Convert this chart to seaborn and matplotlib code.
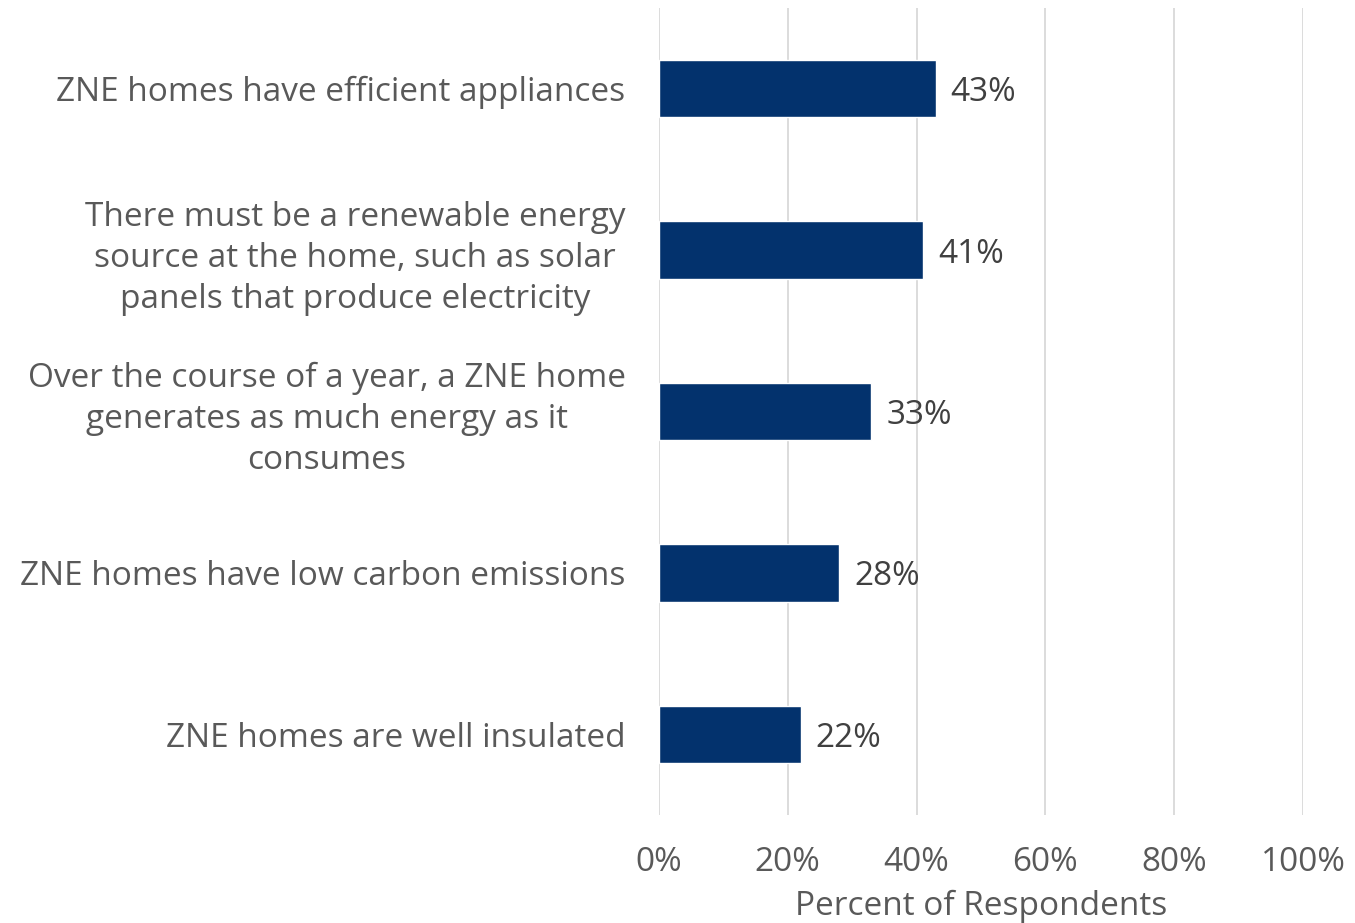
import matplotlib
matplotlib.use("Agg")
import matplotlib.pyplot as plt
import seaborn as sns
import pandas as pd
from matplotlib.ticker import FuncFormatter

categories = [
    "ZNE homes have efficient appliances",
    "There must be a renewable energy\nsource at the home, such as solar\npanels that produce electricity",
    "Over the course of a year, a ZNE home\ngenerates as much energy as it\nconsumes",
    "ZNE homes have low carbon emissions",
    "ZNE homes are well insulated",
]
percent = [43, 41, 33, 28, 22]
x_ticks = [0, 20, 40, 60, 80, 100]

df = pd.DataFrame({"statement": categories, "percent": percent})

sns.set_theme(style="white")
plt.rcParams["font.family"] = ["Open Sans", "DejaVu Sans"]

FS = 24
GREY = "#595959"

fig = plt.figure(figsize=(13.55, 9.23), dpi=100)
ax = fig.add_axes([0.4863, 0.117, 0.4753, 0.8743])

sns.barplot(data=df, x="percent", y="statement", color="#03326D",
            width=0.355, saturation=1, ax=ax, zorder=3)

ax.set_xlim(0, 100)
ax.set_ylim(4.5, -0.5)
ax.set_xticks(x_ticks)
ax.xaxis.set_major_formatter(FuncFormatter(lambda v, _: f"{v:.0f}%"))
ax.grid(axis="x", color="#D9D9D9", linewidth=1.3, zorder=0)
ax.grid(axis="y", visible=False)
for s in ax.spines.values():
    s.set_visible(False)

ax.tick_params(axis="x", length=0, pad=22, labelsize=FS, labelcolor=GREY)
ax.tick_params(axis="y", length=0, pad=24, labelsize=FS, labelcolor=GREY)
for lbl in ax.get_yticklabels():
    lbl.set_multialignment("center")
    lbl.set_linespacing(1.32)

ax.set_xlabel("Percent of Respondents", fontsize=FS, color=GREY, labelpad=8)
ax.set_ylabel("")

for i, v in enumerate(percent):
    ax.text(v + 2.3, i, f"{v}%", va="center_baseline", ha="left",
            fontsize=FS, color="#404040")

fig.savefig("out.png", dpi=100)
